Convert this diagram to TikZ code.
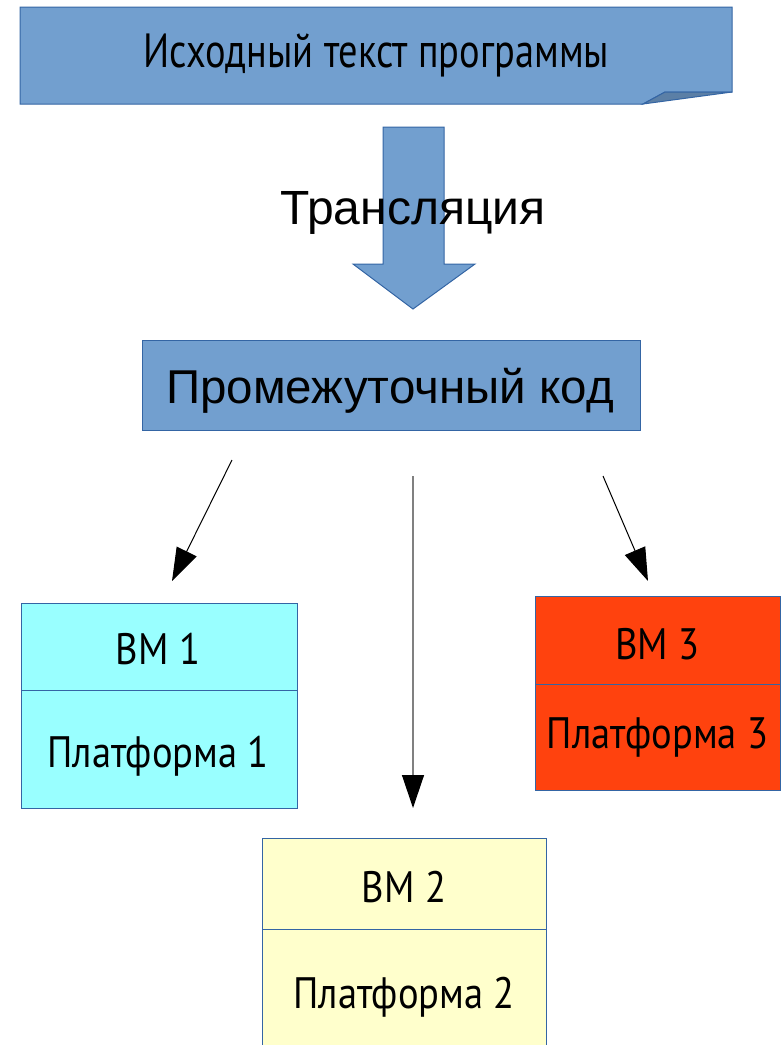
\documentclass[tikz,border=0pt]{standalone}
\usepackage{fontspec}
\newfontfamily\narrowfont[FakeStretch=0.80]{PT Sans}
\newfontfamily\vmfont[FakeStretch=0.875]{PT Sans}
\newfontfamily\arialfont{Liberation Sans}
\usetikzlibrary{arrows.meta}
\definecolor{docblue}{HTML}{729FCF}
\definecolor{docedge}{HTML}{3465A4}
\definecolor{folddark}{HTML}{5B7FA6}
\definecolor{cyanfill}{HTML}{99FFFF}
\definecolor{yellowfill}{HTML}{FFFFCC}
\definecolor{redfill}{HTML}{FF420E}
\tikzset{
  boxpart/.style={draw=docedge, line width=1pt, inner sep=0pt},
  narrowtext/.style={inner sep=0pt, anchor=base, font=\vmfont\fontsize{44}{50}\selectfont},
  srctext/.style={inner sep=0pt, anchor=base, font=\narrowfont\fontsize{48}{54}\selectfont},
  ariallabel/.style={inner sep=0pt, anchor=base, font=\arialfont\fontsize{#1}{#1}\selectfont},
  thinarrow/.style={line width=1pt, -{Triangle[length=33pt,width=22pt,color=black]}}
}
\begin{document}
\begin{tikzpicture}[x=1pt,y=-1pt]
\useasboundingbox (0,0) rectangle (783,1045);
% source document
\filldraw[fill=docblue, draw=docedge, line width=1pt] (20,7) -- (732,7) -- (732,92) -- (665,92) -- (643,104) -- (20,104) -- cycle;
\filldraw[fill=folddark, draw=docedge, line width=1pt] (643,104) -- (665,92) -- (732,92) -- cycle;
\node[srctext] (src) at (376.5,67) {Исходный текст программы};
% block arrow
\filldraw[fill=docblue, draw=docedge, line width=1pt] (383,127) -- (444,127) -- (444,264) -- (475,264) -- (413,309) -- (353,264) -- (383,264) -- cycle;
\node[ariallabel=48] (trans) at (413,224) {Трансляция};
% intermediate code
\node[boxpart, fill=docblue, minimum width=498pt, minimum height=90pt] (ir) at (391,385) {};
\node[ariallabel=47.5] (irtext) at (390,403) {Промежуточный код};
% VM 1
\node[boxpart, fill=cyanfill, minimum width=276pt, minimum height=87pt] (vm1top) at (159,646.5) {};
\node[boxpart, fill=cyanfill, minimum width=276pt, minimum height=118pt] (vm1bot) at (159,749) {};
\node[narrowtext] (vm1a) at (158,664) {ВМ 1};
\node[narrowtext] (vm1b) at (158,767) {Платформа 1};
% VM 2
\node[boxpart, fill=yellowfill, minimum width=284pt, minimum height=91pt] (vm2top) at (404,883.5) {};
\node[boxpart, fill=yellowfill, minimum width=284pt, minimum height=130pt] (vm2bot) at (404,994) {};
\node[narrowtext] (vm2a) at (404,902) {ВМ 2};
\node[narrowtext] (vm2b) at (404,1008) {Платформа 2};
% VM 3
\node[boxpart, fill=redfill, minimum width=245pt, minimum height=88pt] (vm3top) at (657.5,640) {};
\node[boxpart, fill=redfill, minimum width=245pt, minimum height=106pt] (vm3bot) at (657.5,737) {};
\node[narrowtext] (vm3a) at (657.5,659) {ВМ 3};
\node[narrowtext] (vm3b) at (657.5,748) {Платформа 3};
% connectors
\coordinate (l1) at (232,460);
\coordinate (l2) at (172,581);
\coordinate (m1) at (413,476);
\coordinate (m2) at (413,808);
\coordinate (r1) at (603,476);
\coordinate (r2) at (648,581);
\draw[thinarrow, draw=black] (l1) -- (l2);
\draw[thinarrow, draw=gray, line width=1.3pt] (m1) -- (m2);
\draw[thinarrow, draw=black] (r1) -- (r2);
\end{tikzpicture}
\end{document}
